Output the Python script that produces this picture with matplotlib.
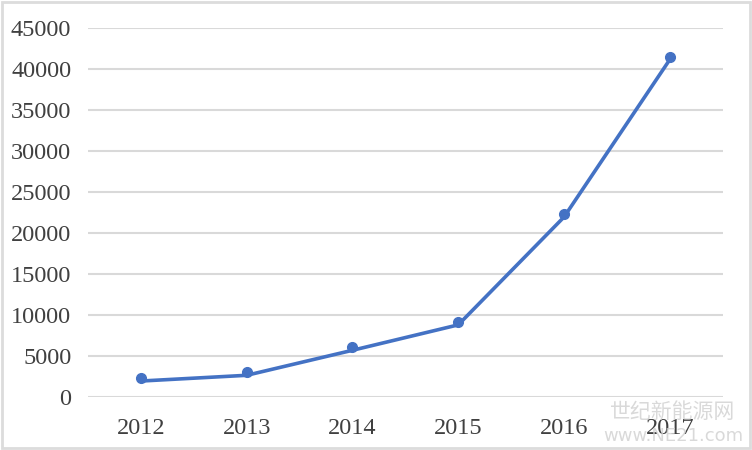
import numpy as np
import matplotlib.pyplot as plt
import matplotlib.transforms as mtransforms

# 数据
years = ['2012', '2013', '2014', '2015', '2016', '2017']
values = [2300, 3000, 6050, 9150, 22300, 41500]
y_ticks = [0, 5000, 10000, 15000, 20000, 25000, 30000, 35000, 40000, 45000]

if __name__ == '__main__':
    plt.rcParams['font.family'] = ['Liberation Serif', 'DejaVu Serif']
    fig = plt.figure(figsize=(7.52, 4.5), dpi=100)
    ax = fig.add_axes([0.117, 0.118, 0.844, 0.820])

    x = np.arange(len(years))
    color = '#4472C4'
    # линия чуть ниже маркеров, как на оригинале
    shift = mtransforms.offset_copy(ax.transData, fig=fig, x=0, y=-3, units='dots')
    ax.plot(x, values, color=color, lw=2.6, transform=shift, solid_capstyle='round', zorder=3)
    ax.plot(x, values, 'o', color=color, ms=7, zorder=4)

    ax.set_xlim(-0.5, len(years) - 0.5)
    ax.set_ylim(0, 45000)
    ax.set_xticks(x)
    ax.set_xticklabels(years)
    ax.set_yticks(y_ticks)
    ax.set_yticklabels([str(v) for v in y_ticks])
    ax.yaxis.grid(True, color='#d9d9d9', lw=1.5)
    ax.set_axisbelow(True)
    for s in ax.spines.values():
        s.set_visible(False)
    ax.tick_params(axis='both', length=0, labelsize=17.5, colors='#404040')
    ax.tick_params(axis='x', pad=15)
    ax.tick_params(axis='y', pad=12)

    # рамка и водяной знак
    fig.patches.append(plt.Rectangle((0.002, 0.004), 0.996, 0.992, transform=fig.transFigure,
                                     fill=False, ec='#dcdcdc', lw=2))
    fig.text(0.895, 0.085, '世纪新能源网', family=['Noto Sans CJK SC', 'DejaVu Sans'],
             fontsize=15, color='#d0d0d0', ha='center', va='center', alpha=0.8, zorder=0)
    fig.text(0.895, 0.032, 'www.NE21.com', family=['DejaVu Sans'],
             fontsize=13, color='#d0d0d0', ha='center', va='center', alpha=0.8, zorder=0)

    plt.savefig('out.png', dpi=100)
